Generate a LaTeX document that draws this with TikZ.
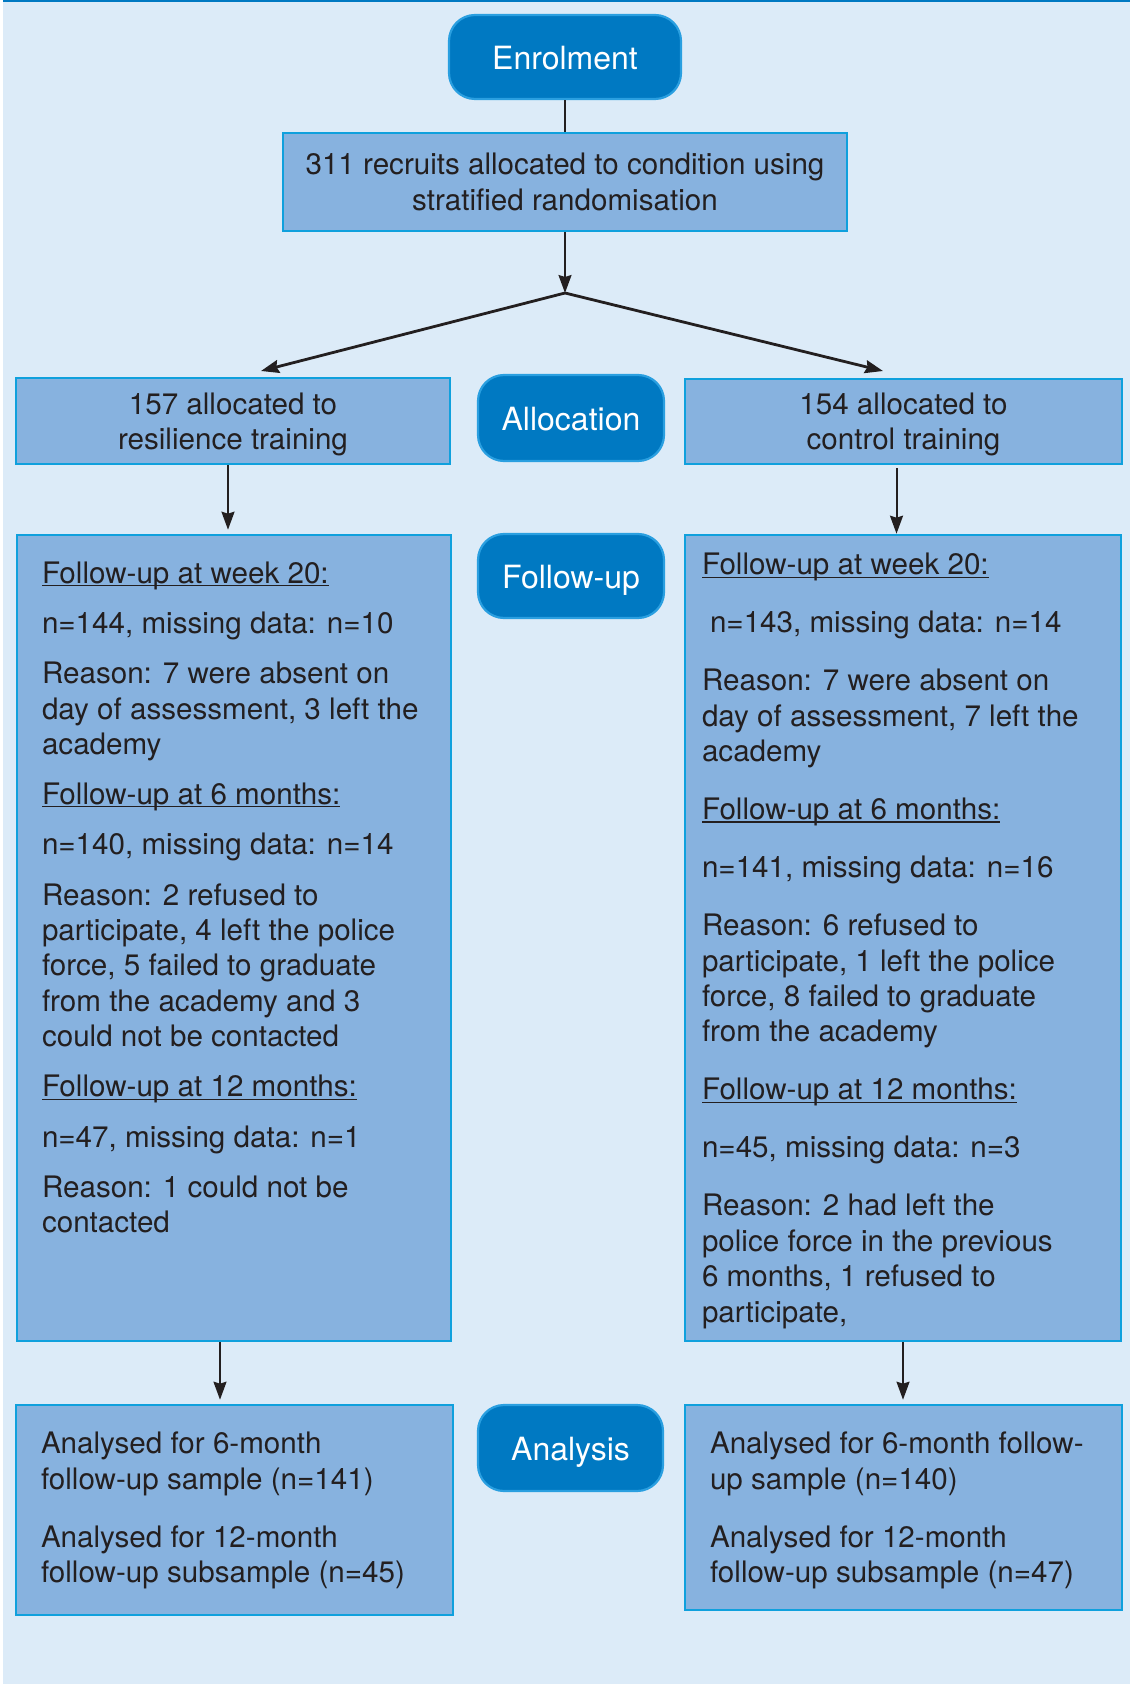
\documentclass[tikz,border=0pt]{standalone}
\usepackage{fontspec}
\setmainfont{TeX Gyre Heros}
\usetikzlibrary{arrows.meta}
\usepackage{xcolor}

\definecolor{bgblue}{HTML}{DCEBF8}
\definecolor{boxblue}{HTML}{87B2DF}
\definecolor{boxedge}{HTML}{0FA0DD}
\definecolor{pillblue}{HTML}{0079C2}
\definecolor{pilledge}{HTML}{2A9FE0}
\definecolor{ink}{HTML}{231F20}

% thin underline just under the baseline
\newcommand{\ulined}[1]{\leavevmode\setbox0\hbox{#1}\rlap{\rule[-1.4pt]{\wd0}{0.55pt}}\box0}
% top-aligned text inside a fixed box
\newcommand{\boxtext}[3]{\parbox[c][#1][t]{#2}{\raggedright\strut#3}}

\tikzset{
  pill/.style={draw=pilledge, fill=pillblue, line width=1.1pt, rounded corners=13pt,
    text=white, font=\fontsize{16}{19}\selectfont, inner sep=0pt,
    text height=12.5pt, text depth=0pt},
  box/.style={draw=boxedge, fill=boxblue, line width=1.3pt, text=ink,
    font=\fontsize{14.8}{17.7}\selectfont, align=center, inner sep=0pt},
  arr/.style={-{Stealth[length=9pt,width=6.5pt,inset=1pt]}, line width=1pt, draw=ink},
}

\begin{document}
\begin{tikzpicture}[x=0.5pt, y=-0.5pt]
    % background
    \useasboundingbox (0,0) rectangle (1130,1684);
    \fill[white] (0,0) rectangle (1130,1684);
    \fill[bgblue] (3,0) rectangle (1130,1684);
    \fill[pillblue] (3,0) rectangle (1130,2.5);

    % Enrolment
    \node[pill, minimum width=116pt, minimum height=42pt] (enrol) at (565,57) {Enrolment};
    \node[box, minimum width=282pt, minimum height=49pt] (rand) at (565,182)
        {311 recruits allocated to condition using\\stratified randomisation};
    \coordinate (split) at (565,293);
    \coordinate (tipL) at (261,371);
    \coordinate (tipR) at (883,371);

    % Allocation
    \node[box, text depth=0pt, minimum width=217pt, minimum height=43pt] (allocL) at (233,421)
        {157 allocated to\\resilience training};
    \node[pill, minimum width=93pt, minimum height=43pt] (alloc) at (571,418) {Allocation};
    \node[box, text depth=0pt, minimum width=218.5pt, minimum height=42.5pt] (allocR) at (903.5,421.5)
        {154 allocated to\\control training};

    % Follow-up
    \node[box, minimum width=217pt, minimum height=403pt] (followL) at (234,938)
        {\boxtext{379.5pt}{192pt}{%
        \ulined{Follow-up at week 20:}\\[7.4pt]
        n=144, missing data: n=10\\[7.4pt]
        Reason: 7 were absent on\\
        day of assessment, 3 left the\\
        academy\\[7.4pt]
        \ulined{Follow-up at 6 months:}\\[7.4pt]
        n=140, missing data: n=14\\[7.4pt]
        Reason: 2 refused to\\
        participate, 4 left the police\\
        force, 5 failed to graduate\\
        from the academy and 3\\
        could not be contacted\\[7.4pt]
        \ulined{Follow-up at 12 months:}\\[7.4pt]
        n=47, missing data: n=1\\[7.4pt]
        Reason: 1 could not be\\
        contacted}};
    \node[pill, minimum width=93pt, minimum height=42pt] (follow) at (571,576) {Follow-up};
    \node[box, minimum width=218pt, minimum height=403pt] (followR) at (903,938)
        {\boxtext{387.8pt}{201pt}{%
        \ulined{Follow-up at week 20:}\\[11.3pt]
        \hspace*{4pt}n=143, missing data: n=14\\[11.3pt]
        Reason: 7 were absent on\\
        day of assessment, 7 left the\\
        academy\\[11.3pt]
        \ulined{Follow-up at 6 months:}\\[11.3pt]
        n=141, missing data: n=16\\[11.3pt]
        Reason: 6 refused to\\
        participate, 1 left the police\\
        force, 8 failed to graduate\\
        from the academy\\[11.3pt]
        \ulined{Follow-up at 12 months:}\\[11.3pt]
        n=45, missing data: n=3\\[11.3pt]
        Reason: 2 had left the\\
        police force in the previous\\
        6 months, 1 refused to\\
        participate,}};

    % Analysis
    \node[box, minimum width=218.5pt, minimum height=105pt] (analysL) at (234.5,1510)
        {\boxtext{80.8pt}{193.5pt}{%
        Analysed for 6-month\\
        follow-up sample (n=141)\\[11.3pt]
        Analysed for 12-month\\
        follow-up subsample (n=45)}};
    \node[pill, minimum width=92.5pt, minimum height=43pt] (analys) at (570.5,1448) {Analysis};
    \node[box, minimum width=218.5pt, minimum height=102.5pt] (analysR) at (903.5,1507.5)
        {\boxtext{78.3pt}{193.5pt}{%
        Analysed for 6-month follow-\\
        up sample (n=140)\\[11.3pt]
        Analysed for 12-month\\
        follow-up subsample (n=47)}};

    % connectors
    \draw[ink, line width=1pt] (enrol.south) -- (rand.north);
    \draw[arr] (rand.south) -- (split);
    \draw[arr, line width=1.4pt] (split) -- (tipL);
    \draw[arr, line width=1.4pt] (split) -- (tipR);
    \draw[arr, shorten >=2pt] ([xshift=-2.5pt]allocL.south) -- ([xshift=-2.5pt]allocL.south |- followL.north);
    \draw[arr, shorten <=1.5pt] ([xshift=-3.5pt]allocR.south) -- ([xshift=-3.5pt]allocR.south |- followR.north);
    \draw[arr, shorten >=2pt] ([xshift=-7pt]followL.south) -- ([xshift=-7pt]followL.south |- analysL.north);
    \draw[arr, shorten >=2pt] (followR.south) -- (followR.south |- analysR.north);
\end{tikzpicture}
\end{document}
